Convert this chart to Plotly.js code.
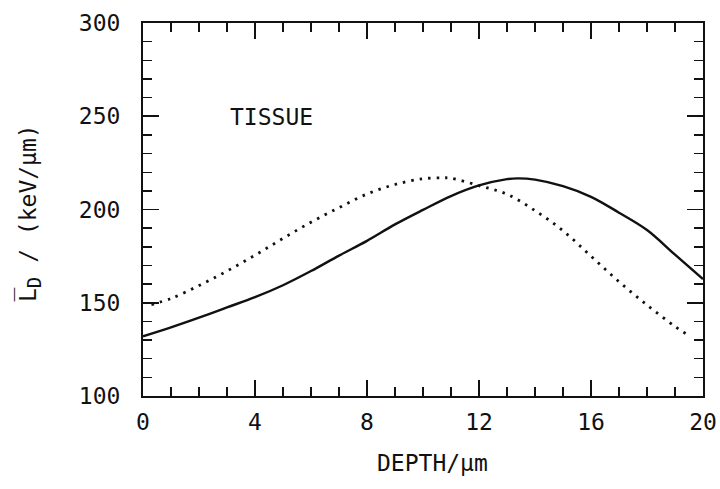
<!DOCTYPE html>
<html>
<head>
<meta charset="utf-8">
<script src="https://cdn.plot.ly/plotly-3.0.1.min.js"></script>
<style>html,body{margin:0;padding:0;background:#fff;}#chart{width:720px;height:489px;}</style>
</head>
<body>
<div id="chart"></div>
<script>
// Solid curve
const solidDepth = [0,1,2,3,4,5,6,7,8,9,10,11,12,13,13.4,14,15,16,17,18,19,20];
const solidLD    = [132,136.8,142,147.5,153,159.4,167,175.3,183.2,192,199.8,207.2,212.9,216.3,216.7,216,212.5,206.8,198.3,189,175.8,162.7];
// Dotted curve
const dotDepth = [0.3,1,2,3,4,5,6,7,8,9,10,10.7,11,12,13,14,15,16,17,18,19,19.4];
const dotLD    = [149,152.3,159.2,167,175.5,184.5,193.2,201,208.3,213.4,216.5,217,216.8,212.8,208.2,199.4,188.6,175,161.3,148.8,137.3,133.3];

const xTickVals = [0,4,8,12,16,20];
const yTickVals = [100,150,200,250,300];

const FONT = "DejaVu Sans Mono, monospace";
const INK = "#111";
const FS = 23;

const traces = [
  {x: solidDepth, y: solidLD, mode: 'lines', line: {color: INK, width: 2.4, shape: 'spline', smoothing: 1}, hoverinfo: 'skip'},
  {x: dotDepth, y: dotLD, mode: 'lines', line: {color: INK, width: 2.8, dash: '2.5px,6px', shape: 'spline', smoothing: 1}, hoverinfo: 'skip'}
];

const axisCommon = {
  showgrid: false, zeroline: false, showline: true, linecolor: INK, linewidth: 2,
  mirror: 'allticks', ticks: 'inside', ticklen: 16, tickwidth: 1.6, tickcolor: INK,
  tickfont: {family: FONT, size: FS, color: INK},
  minor: {ticks: 'inside', ticklen: 9, tickwidth: 1.4, tickcolor: INK, showgrid: false}
};

const layout = {
  width: 720, height: 489,
  margin: {l: 143, r: 17, t: 23, b: 93},
  paper_bgcolor: '#fff', plot_bgcolor: '#fff',
  showlegend: false,
  xaxis: Object.assign({}, axisCommon, {
    range: [0, 20], tickmode: 'array', tickvals: xTickVals, ticktext: xTickVals.map(String),
    minor: Object.assign({}, axisCommon.minor, {dtick: 1, tick0: 0}),
    ticklabelstandoff: 4
  }),
  yaxis: Object.assign({}, axisCommon, {
    range: [100, 300], tickmode: 'array', tickvals: yTickVals, ticktext: yTickVals.map(String),
    minor: Object.assign({}, axisCommon.minor, {dtick: 10, tick0: 100}),
    ticklabelstandoff: 16
  }),
  annotations: [
    {text: 'TISSUE', xref: 'x', yref: 'y', x: 4.6, y: 249.5, showarrow: false,
     font: {family: FONT, size: FS, color: INK}},
    {text: 'DEPTH/μm', xref: 'paper', yref: 'paper', x: (432-143)/560, y: -(463-396)/373, showarrow: false,
     xanchor: 'center', yanchor: 'middle', font: {family: FONT, size: FS, color: INK}},
    {text: 'L̅<sub><span style="font-size:19px">D</span></sub> / (keV/μm)', xref: 'paper', yref: 'paper', x: -(143-29)/560, y: (396-213)/373,
     showarrow: false, textangle: -90, xanchor: 'center', yanchor: 'middle',
     font: {family: FONT, size: FS, color: INK}}
  ]
};

Plotly.newPlot('chart', traces, layout, {staticPlot: true, displayModeBar: false});
</script>
</body>
</html>
